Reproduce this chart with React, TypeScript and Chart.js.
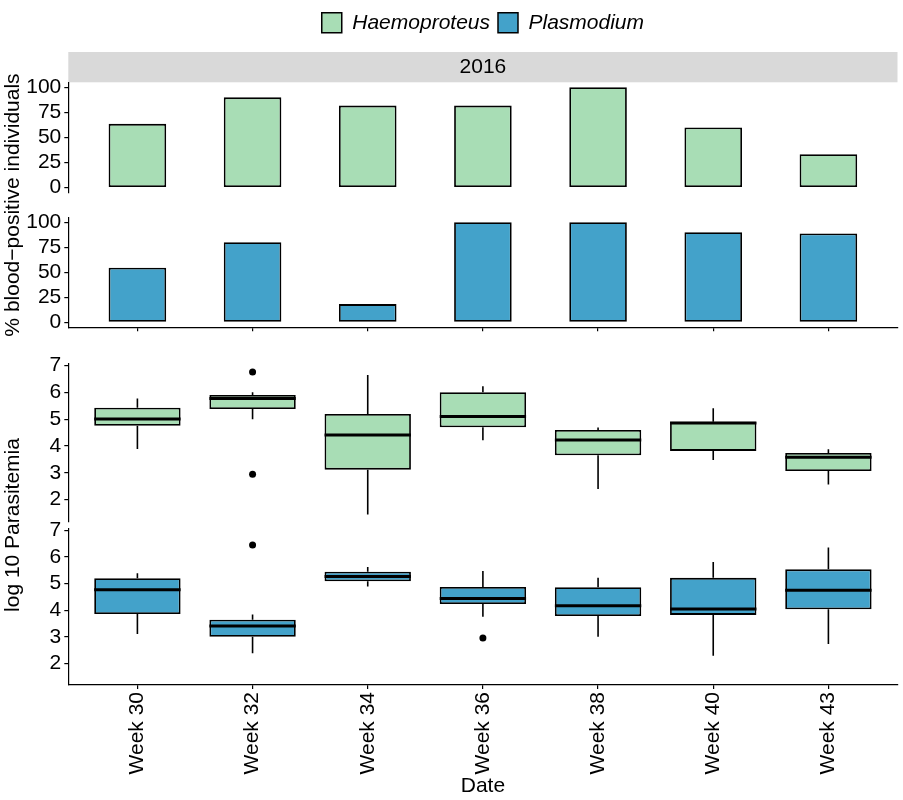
import React, { useEffect, useRef } from 'react';
import { Chart, registerables } from 'chart.js';

Chart.register(...registerables);

// ---------- data ----------
const weeks = ['Week 30', 'Week 32', 'Week 34', 'Week 36', 'Week 38', 'Week 40', 'Week 43'];
const seriesNames = ['Haemoproteus', 'Plasmodium'];
const seriesColors = ['#A8DDB5', '#43A2CA'];
const stripLabel = '2016';

const pctTicks = [0, 25, 50, 75, 100];
const logTicks = [2, 3, 4, 5, 6, 7];

const haemoPct = [63.6, 90, 81.8, 81.8, 100, 60, 33.3];
const plasmoPct = [54.5, 80, 18.2, 100, 100, 90, 88.9];

const haemoMin = [3.89, 5.0, 1.45, 4.22, 2.4, 3.48, 2.57];
const haemoQ1 = [4.76, 5.38, 3.12, 4.7, 3.66, 3.82, 3.07];
const haemoMed = [5.01, 5.78, 4.41, 5.1, 4.23, 4.86, 3.58];
const haemoQ3 = [5.43, 5.91, 5.2, 6.01, 4.6, 4.91, 3.74];
const haemoMax = [5.78, 6.01, 6.65, 6.23, 4.69, 5.41, 3.88];
const haemoOutWeek = [1, 1];
const haemoOutVal = [6.76, 2.95];

const plasmoMin = [3.1, 2.38, 4.89, 3.75, 3.0, 2.29, 2.73];
const plasmoQ1 = [3.85, 3.0, 5.08, 4.23, 3.78, 3.82, 4.03];
const plasmoMed = [4.76, 3.4, 5.26, 4.44, 4.16, 4.04, 4.75];
const plasmoQ3 = [5.2, 3.64, 5.44, 4.87, 4.86, 5.21, 5.53];
const plasmoMax = [5.38, 3.84, 5.62, 5.47, 5.21, 5.81, 6.35];
const plasmoOutWeek = [1, 3];
const plasmoOutVal = [6.44, 2.95];

// ---------- styling ----------
const FONT = "'Liberation Sans', Arial, Helvetica, sans-serif";
const FS = 21;
Chart.defaults.font.family = FONT;
Chart.defaults.font.size = FS;
Chart.defaults.color = '#000';

const PAD_LEFT = 0.3;
const PAD_RIGHT = 5.5;
const Y_AXIS_W = 68;
const OUTLINE = 1.8;

type PanelCfg = {
  top: number;
  bottom: number;
  showX: boolean;
  xLabels: boolean;
  xHeight: number;
  yMin: number;
  yMax: number;
  yTicks: number[];
  xTitle?: string;
};

function scalesFor(p: PanelCfg) {
  return {
    x: {
      type: 'linear',
      min: -0.6,
      max: 6.6,
      offset: false,
      display: p.showX,
      afterBuildTicks: (s: any) => {
        s.ticks = weeks.map((_, i) => ({ value: i }));
      },
      afterFit: (s: any) => {
        s.height = p.xHeight;
        s.paddingLeft = 0;
        s.paddingRight = 0;
      },
      grid: { offset: false, drawOnChartArea: false, drawTicks: true, tickLength: 4, color: '#000', lineWidth: 1.2 },
      border: { display: true, color: '#000', width: 1.2 },
      ticks: {
        display: p.xLabels,
        autoSkip: false,
        minRotation: 90,
        maxRotation: 90,
        padding: 3,
        color: '#000',
        font: { size: FS },
        callback: (_v: any, i: number) => weeks[i],
      },
      title: {
        display: !!p.xTitle,
        text: p.xTitle || '',
        color: '#000',
        font: { size: FS },
        padding: { top: 0, bottom: 1.4 },
      },
    },
    y: {
      min: p.yMin,
      max: p.yMax,
      afterBuildTicks: (s: any) => {
        s.ticks = p.yTicks.map((v) => ({ value: v }));
      },
      afterFit: (s: any) => {
        s.width = Y_AXIS_W;
        s.paddingTop = 0;
        s.paddingBottom = 0;
      },
      grid: { drawOnChartArea: false, drawTicks: true, tickLength: 4, color: '#000', lineWidth: 1.2 },
      border: { display: true, color: '#000', width: 1.2 },
      ticks: { color: '#000', padding: 3, autoSkip: false, font: { size: FS }, callback: (v: any) => String(v) },
    },
  };
}

function baseOptions(p: PanelCfg, extraPlugins: any = {}, padTop?: number) {
  return {
    responsive: false,
    animation: false,
    events: [],
    layout: {
      autoPadding: false,
      padding: { top: padTop ?? p.top, left: PAD_LEFT, right: PAD_RIGHT, bottom: 800 - p.bottom - (p.showX ? p.xHeight : 0) },
    },
    scales: scalesFor(p),
    plugins: {
      legend: { display: false },
      title: { display: false },
      tooltip: { enabled: false },
      ...extraPlugins,
    },
  };
}

const STRIP_H = 30.3;
const stripPlugin = {
  id: 'strip',
  beforeDraw(chart: any) {
    const { ctx, chartArea } = chart;
    ctx.save();
    ctx.fillStyle = '#D9D9D9';
    ctx.fillRect(chartArea.left, chartArea.top - STRIP_H, chartArea.right - chartArea.left, STRIP_H);
    ctx.restore();
  },
};

function makeBoxPlugin(mins: number[], q1: number[], med: number[], q3: number[], maxs: number[]) {
  return {
    id: 'boxStats',
    afterDatasetsDraw(chart: any) {
      const { ctx } = chart;
      const ys = chart.scales.y;
      const meta = chart.getDatasetMeta(0);
      ctx.save();
      ctx.strokeStyle = '#000';
      ctx.lineCap = 'butt';
      mins.forEach((mn, i) => {
        const el = meta.data[i];
        if (!el) return;
        const x = el.x;
        const w = el.width;
        ctx.lineWidth = 1.6;
        ctx.beginPath();
        ctx.moveTo(x, ys.getPixelForValue(q3[i]));
        ctx.lineTo(x, ys.getPixelForValue(maxs[i]));
        ctx.moveTo(x, ys.getPixelForValue(q1[i]));
        ctx.lineTo(x, ys.getPixelForValue(mn));
        ctx.stroke();
        const ym = ys.getPixelForValue(med[i]);
        ctx.lineWidth = 3;
        ctx.beginPath();
        ctx.moveTo(x - w / 2, ym);
        ctx.lineTo(x + w / 2, ym);
        ctx.stroke();
      });
      ctx.restore();
    },
  };
}

function barDataset(values: number[], color: string) {
  return {
    type: 'bar',
    data: values.map((v, i) => ({ x: i, y: v })),
    backgroundColor: color,
    borderColor: '#000',
    borderWidth: OUTLINE,
    borderSkipped: false,
    barPercentage: 0.5,
    categoryPercentage: 1,
  };
}

function boxDatasets(q1: number[], q3: number[], outW: number[], outV: number[], color: string) {
  return [
    {
      type: 'bar',
      data: q1.map((v, i) => ({ x: i, y: [v, q3[i]] })),
      backgroundColor: color,
      borderColor: '#000',
      borderWidth: OUTLINE,
      borderSkipped: false,
      barPercentage: 0.75,
      categoryPercentage: 1,
      order: 2,
    },
    {
      type: 'scatter',
      data: outW.map((w, k) => ({ x: w, y: outV[k] })),
      backgroundColor: '#000',
      borderWidth: 0,
      pointRadius: 3.5,
      order: 1,
    },
  ];
}

const panelH: PanelCfg = { top: 82.3, bottom: 192.7, showX: false, xLabels: false, xHeight: 0, yMin: -5, yMax: 105, yTicks: pctTicks };
const panelP: PanelCfg = { top: 217.3, bottom: 327.3, showX: true, xLabels: false, xHeight: 10, yMin: -5, yMax: 105, yTicks: pctTicks };
const panelBH: PanelCfg = { top: 363.8, bottom: 521.4, showX: false, xLabels: false, xHeight: 0, yMin: 1.19, yMax: 7.07, yTicks: logTicks };
const panelBP: PanelCfg = { top: 528.3, bottom: 685, showX: true, xLabels: true, xHeight: 115, yMin: 1.19, yMax: 7.07, yTicks: logTicks, xTitle: 'Date' };

function config1(): any {
  const opts: any = baseOptions(
    panelH,
    {
      legend: {
        display: true,
        position: 'top',
        fullSize: false,
        weight: 1000,
        labels: {
          boxWidth: 20,
          boxHeight: 20,
          padding: 8,
          color: '#000',
          font: { size: FS, style: 'italic' },
          generateLabels: () =>
            seriesNames.map((name, i) => ({
              text: name,
              fillStyle: seriesColors[i],
              strokeStyle: '#000',
              lineWidth: 1.5,
              hidden: false,
              datasetIndex: 0,
              fontColor: '#000',
            })),
        },
      },
      title: {
        display: true,
        text: stripLabel,
        position: 'top',
        fullSize: false,
        weight: 500,
        color: '#000',
        font: { size: FS, weight: 'normal' },
        padding: { top: 11.35, bottom: 2.55 },
      },
    },
    4.2
  );
  return {
    type: 'bar',
    data: { datasets: [barDataset(haemoPct, seriesColors[0])] },
    options: opts,
    plugins: [stripPlugin],
  };
}

function config2(): any {
  return {
    type: 'bar',
    data: { datasets: [barDataset(plasmoPct, seriesColors[1])] },
    options: baseOptions(panelP),
  };
}

function config3(): any {
  return {
    type: 'bar',
    data: { datasets: boxDatasets(haemoQ1, haemoQ3, haemoOutWeek, haemoOutVal, seriesColors[0]) },
    options: baseOptions(panelBH),
    plugins: [makeBoxPlugin(haemoMin, haemoQ1, haemoMed, haemoQ3, haemoMax)],
  };
}

function config4(): any {
  return {
    type: 'bar',
    data: { datasets: boxDatasets(plasmoQ1, plasmoQ3, plasmoOutWeek, plasmoOutVal, seriesColors[1]) },
    options: baseOptions(panelBP),
    plugins: [makeBoxPlugin(plasmoMin, plasmoQ1, plasmoMed, plasmoQ3, plasmoMax)],
  };
}

const canvasStyle: React.CSSProperties = { position: 'absolute', left: 0, top: 0, width: 903, height: 800 };

function yTitle(cx: number, cy: number): React.CSSProperties {
  return {
    position: 'absolute',
    left: cx,
    top: cy,
    transform: 'translate(-50%, -50%) rotate(-90deg)',
    whiteSpace: 'nowrap',
    fontFamily: FONT,
    fontSize: FS,
    lineHeight: 1,
    color: '#000',
  };
}

export default function App() {
  const r1 = useRef<HTMLCanvasElement>(null);
  const r2 = useRef<HTMLCanvasElement>(null);
  const r3 = useRef<HTMLCanvasElement>(null);
  const r4 = useRef<HTMLCanvasElement>(null);

  useEffect(() => {
    const charts = [
      new Chart(r1.current as HTMLCanvasElement, config1()),
      new Chart(r2.current as HTMLCanvasElement, config2()),
      new Chart(r3.current as HTMLCanvasElement, config3()),
      new Chart(r4.current as HTMLCanvasElement, config4()),
    ];
    return () => charts.forEach((c) => c.destroy());
  }, []);

  return (
    <div style={{ position: 'absolute', left: 0, top: 0, width: 903, height: 800, background: '#fff', overflow: 'hidden' }}>
      <canvas ref={r1} width={903} height={800} style={canvasStyle} />
      <canvas ref={r2} width={903} height={800} style={canvasStyle} />
      <canvas ref={r3} width={903} height={800} style={canvasStyle} />
      <canvas ref={r4} width={903} height={800} style={canvasStyle} />
      <div style={yTitle(11, 205)}>% blood−positive individuals</div>
      <div style={yTitle(11, 525)}>log 10 Parasitemia</div>
    </div>
  );
}
